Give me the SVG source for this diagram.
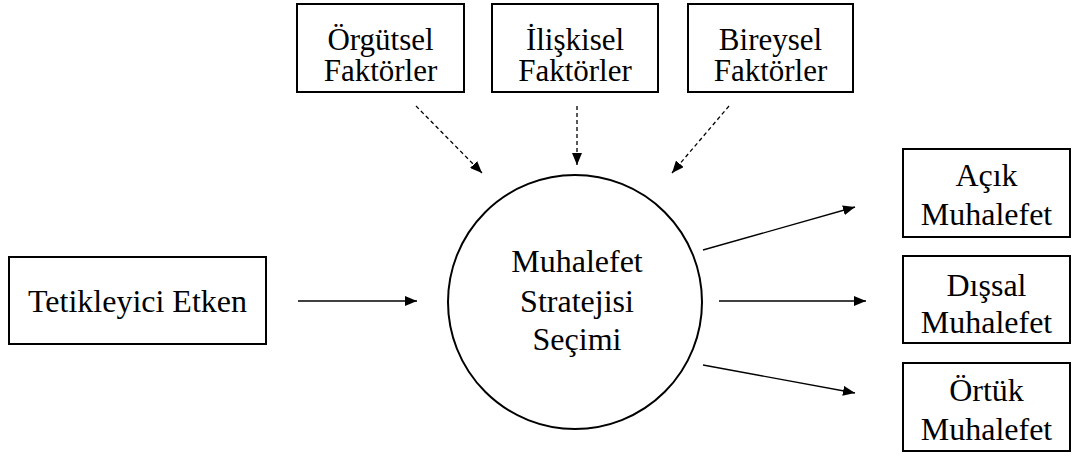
<svg xmlns="http://www.w3.org/2000/svg" width="1074" height="457" viewBox="0 0 1074 457">
<style>
  .box { fill: #ffffff; stroke: #000000; stroke-width: 2; }
  .circ { fill: #ffffff; stroke: #000000; stroke-width: 2; }
  text { font-family: "Liberation Serif", "Times New Roman", serif; font-size: 32px; fill: #000000; text-anchor: middle; }
  .top { font-size: 31px; }
  .solid { stroke: #000000; stroke-width: 1.3; fill: none; marker-end: url(#ah); }
  .dash { stroke: #000000; stroke-width: 1.3; fill: none; stroke-dasharray: 4 3; marker-end: url(#ah); }
</style>
<defs>
  <marker id="ah" markerUnits="userSpaceOnUse" markerWidth="12" markerHeight="10" refX="12" refY="5" orient="auto">
    <path d="M0,0 L12,5 L0,10 z" fill="#000000"/>
  </marker>
</defs>
<rect width="1074" height="457" fill="#ffffff"/>

<g id="orgutsel">
  <rect class="box" x="297" y="4" width="167" height="88"/>
  <text class="top" x="380.5" y="50">Örgütsel</text>
  <text class="top" x="380.5" y="81">Faktörler</text>
</g>
<g id="iliskisel">
  <rect class="box" x="492" y="4" width="166" height="88"/>
  <text class="top" x="575" y="50">İlişkisel</text>
  <text class="top" x="575" y="81">Faktörler</text>
</g>
<g id="bireysel">
  <rect class="box" x="688" y="4" width="165" height="88"/>
  <text class="top" x="770.5" y="50">Bireysel</text>
  <text class="top" x="770.5" y="81">Faktörler</text>
</g>

<g id="tetikleyici">
  <rect class="box" x="9" y="257" width="257" height="87"/>
  <text x="137.5" y="312">Tetikleyici Etken</text>
</g>

<g id="secim">
  <circle class="circ" cx="575" cy="302" r="127"/>
  <text x="577" y="272">Muhalefet</text>
  <text x="577" y="312">Stratejisi</text>
  <text x="577" y="350">Seçimi</text>
</g>

<g id="acik">
  <rect class="box" x="903" y="149" width="167" height="88"/>
  <text x="986.5" y="186">Açık</text>
  <text x="986.5" y="225">Muhalefet</text>
</g>
<g id="dissal">
  <rect class="box" x="903" y="256" width="167" height="87"/>
  <text x="986.5" y="296">Dışsal</text>
  <text x="986.5" y="333">Muhalefet</text>
</g>
<g id="ortuk">
  <rect class="box" x="903" y="363" width="167" height="88"/>
  <text x="986.5" y="401">Örtük</text>
  <text x="986.5" y="440">Muhalefet</text>
</g>

<g id="connectors">
  <line class="dash" x1="416" y1="106" x2="482" y2="173"/>
  <line class="dash" x1="577" y1="106" x2="577" y2="165"/>
  <line class="dash" x1="729" y1="106" x2="672" y2="173"/>
  <line class="solid" x1="298" y1="301" x2="417" y2="301"/>
  <line class="solid" x1="703" y1="250" x2="855" y2="207"/>
  <line class="solid" x1="719" y1="301" x2="866" y2="301"/>
  <line class="solid" x1="703" y1="365" x2="855" y2="393"/>
</g>
</svg>
